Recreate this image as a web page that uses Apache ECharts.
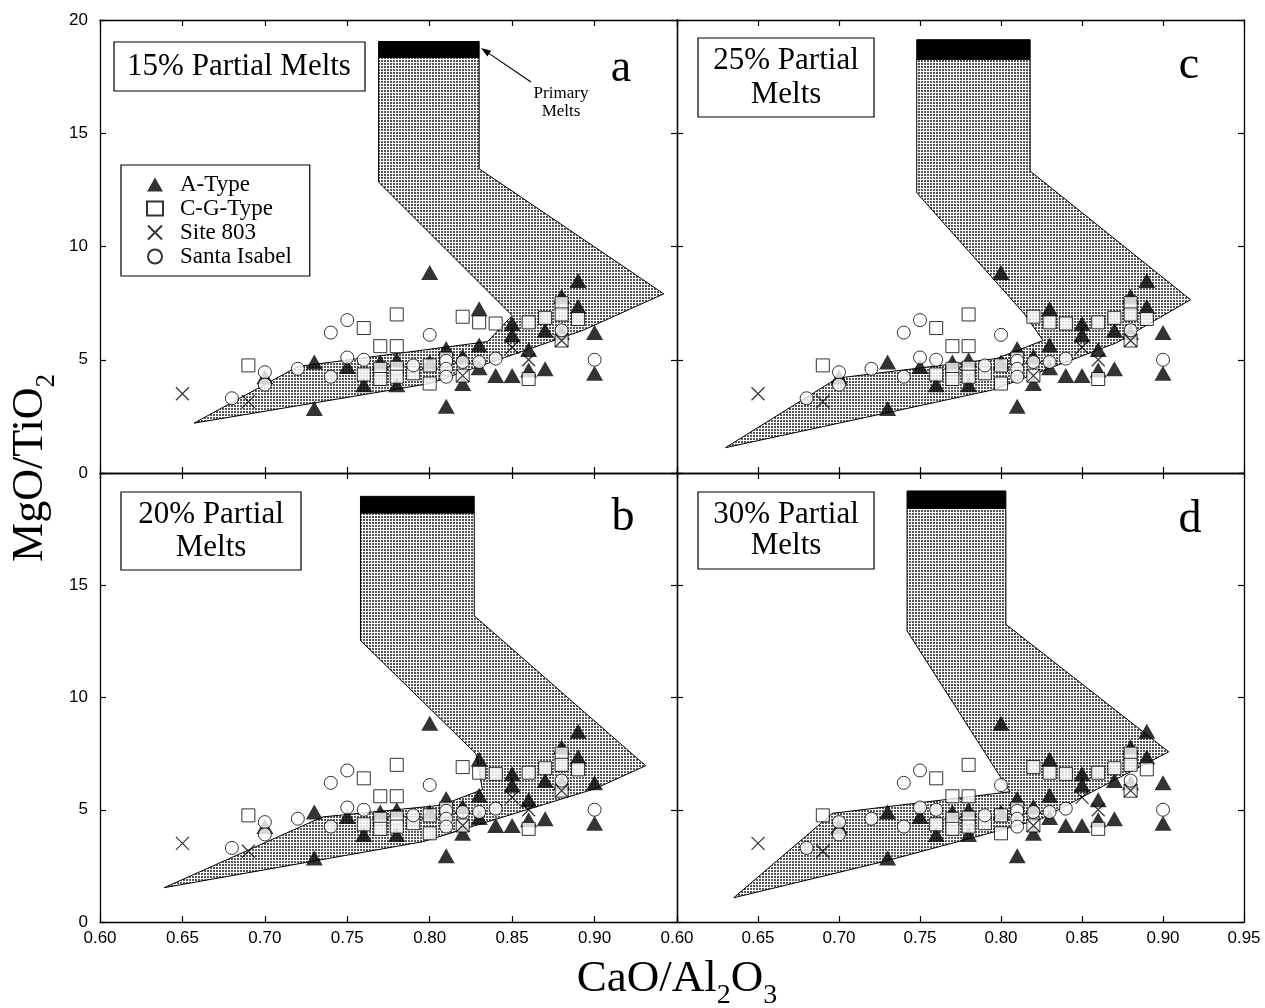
<!DOCTYPE html>
<html>
<head>
<meta charset="utf-8">
<title>MgO/TiO2 vs CaO/Al2O3 partial melts</title>
<script src="https://cdn.jsdelivr.net/npm/echarts@6.0.0/dist/echarts.min.js"></script>
<style>
  html, body { margin: 0; padding: 0; background: #fff; }
  #chart { width: 1265px; height: 1008px; }
</style>
</head>
<body>
<div id="chart"></div>
<script>
const SERIF = '"Liberation Serif", "Times New Roman", serif';
const SANS = '"Liberation Sans", Arial, sans-serif';

const X_MIN = 0.60, X_MAX = 0.95, X_STEP = 0.05;
const Y_MIN = 0, Y_MAX = 20, Y_STEP = 5;

// samples, same in every panel
const aType = [
  [0.70, 4.25], [0.73, 4.90], [0.73, 2.85], [0.75, 4.70], [0.76, 3.90],
  [0.77, 4.90], [0.78, 5.00], [0.78, 3.90], [0.80, 8.85], [0.80, 4.90],
  [0.81, 5.50], [0.81, 2.95], [0.82, 5.15], [0.82, 3.95], [0.83, 7.25],
  [0.83, 5.65], [0.83, 4.65], [0.84, 4.30], [0.85, 6.60], [0.85, 6.10],
  [0.85, 4.30], [0.86, 5.45], [0.86, 4.55], [0.87, 4.60], [0.87, 6.30],
  [0.88, 7.80], [0.88, 6.20], [0.89, 8.50], [0.89, 7.35], [0.90, 6.20],
  [0.90, 4.40]
];
const cgType = [
  [0.69, 4.75], [0.76, 6.40], [0.78, 7.00], [0.77, 5.60], [0.78, 5.60],
  [0.76, 4.35], [0.77, 4.60], [0.77, 4.15], [0.78, 4.65], [0.78, 4.25],
  [0.79, 4.40], [0.80, 4.75], [0.80, 3.95], [0.81, 5.05], [0.82, 6.90],
  [0.83, 6.65], [0.84, 6.60], [0.86, 6.65], [0.87, 6.85], [0.88, 7.50],
  [0.88, 7.00], [0.89, 6.80], [0.86, 4.15], [0.82, 4.30], [0.88, 5.85]
];
const site803 = [
  [0.65, 3.50], [0.69, 3.15], [0.86, 5.00], [0.82, 4.30], [0.88, 5.85], [0.85, 5.55]
];
const santaIsabel = [
  [0.68, 3.30], [0.70, 4.45], [0.70, 3.90], [0.72, 4.60], [0.74, 6.20],
  [0.75, 6.75], [0.74, 4.25], [0.75, 5.10], [0.76, 5.00], [0.79, 4.75],
  [0.80, 6.10], [0.81, 4.95], [0.81, 4.60], [0.81, 4.25], [0.82, 4.90],
  [0.83, 4.90], [0.84, 5.05], [0.88, 6.30], [0.90, 5.00]
];

// model melt fields (outline vertices) and primary-melt bars (two corners)
const meltA = [
  [0.769, 18.35], [0.830, 18.35], [0.830, 13.43], [0.942, 7.91], [0.893, 6.30],
  [0.800, 3.95], [0.657, 2.20], [0.720, 4.70], [0.835, 5.80], [0.850, 6.95], [0.769, 12.84]
];
const primaryA = [[0.769, 18.35], [0.830, 19.05]];

const meltB = [
  [0.758, 18.22], [0.827, 18.22], [0.827, 13.64], [0.931, 6.96], [0.900, 5.93],
  [0.796, 3.58], [0.639, 1.53], [0.735, 4.68], [0.807, 5.20], [0.832, 5.90],
  [0.828, 7.50], [0.758, 12.54]
];
const primaryB = [[0.758, 18.22], [0.827, 18.96]];

const meltC = [
  [0.748, 18.27], [0.818, 18.27], [0.818, 13.33], [0.917, 7.65], [0.871, 5.74],
  [0.795, 3.67], [0.630, 1.12], [0.699, 4.19], [0.797, 5.05], [0.826, 5.85],
  [0.814, 7.06], [0.748, 12.37]
];
const primaryC = [[0.748, 18.27], [0.818, 19.13]];

const meltD = [
  [0.742, 18.43], [0.803, 18.43], [0.803, 13.26], [0.9035, 7.58], [0.866, 6.17],
  [0.825, 4.60], [0.790, 3.90], [0.728, 2.70], [0.635, 1.08], [0.696, 4.84],
  [0.8055, 5.80], [0.742, 12.97]
];
const primaryD = [[0.742, 18.43], [0.803, 19.20]];

const panelTitles = [["15% Partial Melts"], ["20% Partial", "Melts"], ["25% Partial", "Melts"], ["30% Partial", "Melts"]];
const panelLetters = ["a", "b", "c", "d"];
const legendNames = ["A-Type", "C-G-Type", "Site 803", "Santa Isabel"];

const GRIDS = [
  { left: 100, top: 20, width: 577, height: 453 },
  { left: 100, top: 473, width: 577, height: 449 },
  { left: 677, top: 20, width: 567, height: 453 },
  { left: 677, top: 473, width: 567, height: 449 }
];

const PANELS = [
  { melt: meltA, primary: primaryA, xLabels: false, yLabels: true },
  { melt: meltB, primary: primaryB, xLabels: true, yLabels: true, skipX: 0.95, skipY: 20 },
  { melt: meltC, primary: primaryC, xLabels: false, yLabels: false },
  { melt: meltD, primary: primaryD, xLabels: true, yLabels: false }
];

function stipple() {
  const c = document.createElement("canvas");
  c.width = 3; c.height = 3;
  const ctx = c.getContext("2d");
  ctx.fillStyle = "#fff";
  ctx.fillRect(0, 0, 3, 3);
  ctx.fillStyle = "#555";
  ctx.fillRect(0, 0, 2, 2);
  return { image: c, repeat: "repeat" };
}
const STIPPLE = stipple();

const axisLine = { show: true, onZero: false, lineStyle: { color: "#000", width: 1.3 } };
const axisTick = { show: true, inside: true, length: 6, lineStyle: { color: "#000", width: 1.2 } };

function xAxisFor(gi, position, p) {
  const show = position === "bottom" && p.xLabels;
  return {
    type: "value", gridIndex: gi, position, min: X_MIN, max: X_MAX, interval: X_STEP,
    axisLine, axisTick, splitLine: { show: false },
    axisLabel: show ? {
      show: true, color: "#000", fontFamily: SANS, fontSize: 17, margin: 8,
      formatter: v => (p.skipX !== undefined && Math.abs(v - p.skipX) < 1e-6) ? "" : v.toFixed(2)
    } : { show: false }
  };
}

function yAxisFor(gi, position, p) {
  const show = position === "left" && p.yLabels;
  return {
    type: "value", gridIndex: gi, position, min: Y_MIN, max: Y_MAX, interval: Y_STEP,
    axisLine, axisTick, splitLine: { show: false },
    axisLabel: show ? {
      show: true, color: "#000", fontFamily: SANS, fontSize: 17, margin: 12,
      formatter: v => (p.skipY !== undefined && v === p.skipY) ? "" : String(v)
    } : { show: false }
  };
}

function polygonSeries(i, pts, fill, z) {
  return {
    type: "custom", xAxisIndex: 2 * i, yAxisIndex: 2 * i, silent: true, z,
    data: [0],
    renderItem: (params, api) => ({
      type: "polygon",
      shape: { points: pts.map(pt => api.coord(pt)) },
      style: { fill, stroke: "#000", lineWidth: 1 }
    })
  };
}

function barCorners(b) {
  const [[x0, y0], [x1, y1]] = b;
  return [[x0, y0], [x1, y0], [x1, y1], [x0, y1]];
}

function scatterSeries(i, name, data, symbol, symbolSize, itemStyle, z) {
  return {
    type: "scatter", name, xAxisIndex: 2 * i, yAxisIndex: 2 * i, data,
    symbol, symbolSize, itemStyle, z, silent: true
  };
}

const X_PATH = "path://M0,0L10,10M10,0L0,10";

const xAxes = [], yAxes = [], series = [];
PANELS.forEach((p, i) => {
  xAxes.push(xAxisFor(i, "bottom", p), xAxisFor(i, "top", p));
  yAxes.push(yAxisFor(i, "left", p), yAxisFor(i, "right", p));
  series.push(
    polygonSeries(i, p.melt, STIPPLE, 1),
    polygonSeries(i, barCorners(p.primary), "#000", 1),
    scatterSeries(i, legendNames[0], aType, "triangle", [17, 15], { color: "#000" }, 3),
    scatterSeries(i, legendNames[1], cgType, "rect", 13, { color: "#fff", borderColor: "#000", borderWidth: 1 }, 4),
    scatterSeries(i, legendNames[3], santaIsabel, "circle", 13, { color: "#fff", borderColor: "#000", borderWidth: 1 }, 5),
    scatterSeries(i, legendNames[2], site803, X_PATH, 13, { color: "transparent", borderColor: "#000", borderWidth: 1.2 }, 6)
  );
});

function textEl(text, x, baseline, size, align) {
  return {
    type: "text", x, y: baseline - 0.3375 * size, z: 20,
    style: {
      text, font: `${size}px ${SERIF}`, fill: "#000",
      align: align || "center", textAlign: align || "center",
      verticalAlign: "middle", textVerticalAlign: "middle"
    }
  };
}

function formula(parts, gx, gy, size, rotate) {
  const subSize = Math.round(size * 0.62);
  const drop = size * 0.24;
  const ctx = document.createElement("canvas").getContext("2d");
  const widths = parts.map(([t, sub]) => {
    ctx.font = `${sub ? subSize : size}px ${SERIF}`;
    return ctx.measureText(t).width;
  });
  const total = widths.reduce((a, b) => a + b, 0);
  let x = -total / 2;
  const children = parts.map(([t, sub], k) => {
    const el = textEl(t, x, sub ? drop : 0, sub ? subSize : size, "left");
    x += widths[k];
    return el;
  });
  return { type: "group", x: gx, y: gy, rotation: rotate ? Math.PI / 2 : 0, children };
}

function boxLabel(box, lines, baselines, cx) {
  const els = [{
    type: "rect", z: 19, shape: { x: box[0], y: box[1], width: box[2], height: box[3] },
    style: { fill: "#fff", stroke: "#000", lineWidth: 1.2 }
  }];
  lines.forEach((ln, k) => els.push(textEl(ln, cx, baselines[k], 31)));
  return els;
}

function arrow(x0, y0, x1, y1) {
  const dx = x1 - x0, dy = y1 - y0, len = Math.hypot(dx, dy);
  const ux = dx / len, uy = dy / len, hl = 10, hw = 3.5;
  const bx = x1 - ux * hl, by = y1 - uy * hl;
  return [
    { type: "line", z: 20, shape: { x1: x0, y1: y0, x2: bx, y2: by }, style: { stroke: "#000", lineWidth: 1.2 } },
    { type: "polygon", z: 20, shape: { points: [[x1, y1], [bx - uy * hw, by + ux * hw], [bx + uy * hw, by - ux * hw]] }, style: { fill: "#000" } }
  ];
}

const graphic = [
  ...boxLabel([114, 42, 251, 49], panelTitles[0], [77], 239),
  ...boxLabel([121, 492, 180, 78], panelTitles[1], [525, 558], 211),
  ...boxLabel([698, 38, 176, 79], panelTitles[2], [71, 105], 786),
  ...boxLabel([698, 492, 176, 77], panelTitles[3], [525, 556], 786),
  textEl(panelLetters[0], 621, 84, 46),
  textEl(panelLetters[1], 623, 533, 46),
  textEl(panelLetters[2], 1189, 81, 46),
  textEl(panelLetters[3], 1190, 535, 46),
  textEl("Primary", 561, 99, 17),
  textEl("Melts", 561, 117, 17),
  ...arrow(531, 82, 481, 48),
  formula([["CaO/Al", 0], ["2", 1], ["O", 0], ["3", 1]], 677, 994, 45, false),
  formula([["MgO/TiO", 0], ["2", 1]], 45, 468, 44, true)
];

const chart = echarts.init(document.getElementById("chart"));
chart.setOption({
  animation: false,
  backgroundColor: "#fff",
  grid: GRIDS.map(g => ({ ...g, show: false, containLabel: false })),
  xAxis: xAxes,
  yAxis: yAxes,
  legend: {
    orient: "vertical", left: 121, top: 165, selectedMode: false,
    data: legendNames,
    backgroundColor: "#fff", borderColor: "#000", borderWidth: 1.2,
    padding: [8, 18, 8, 25], itemGap: 1, itemWidth: 16, itemHeight: 14,
    textStyle: { fontFamily: SERIF, fontSize: 23, color: "#000", padding: [0, 0, 0, 12] }
  },
  graphic,
  series
});
</script>
</body>
</html>
